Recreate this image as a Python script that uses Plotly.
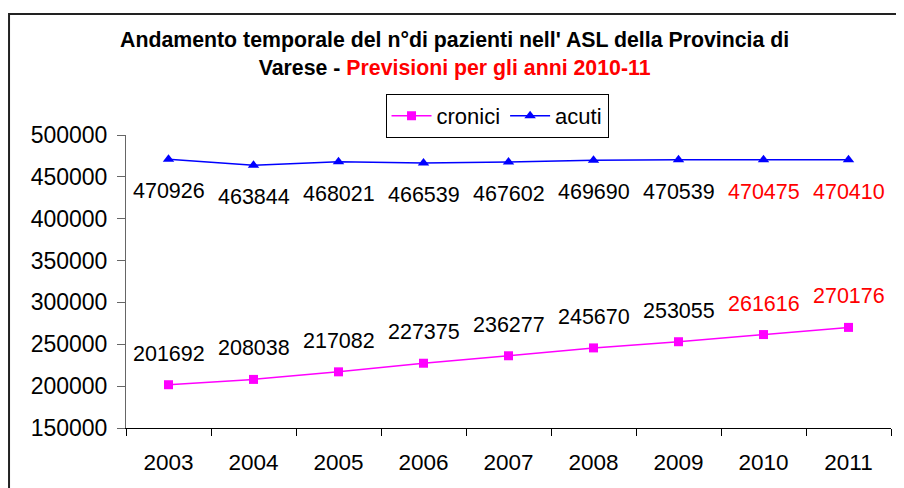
import plotly.graph_objects as go

years = ["2003", "2004", "2005", "2006", "2007", "2008", "2009", "2010", "2011"]
cronici = [201692, 208038, 217082, 227375, 236277, 245670, 253055, 261616, 270176]
acuti = [470926, 463844, 468021, 466539, 467602, 469690, 470539, 470475, 470410]
label_colors = ["black"] * 7 + ["red"] * 2

FONT = "Liberation Sans, Arial, sans-serif"

fig = go.Figure()
fig.add_trace(go.Scatter(x=years, y=cronici, name="cronici", mode="lines+markers",
                         line=dict(color="#FF00FF", width=1.5),
                         marker=dict(symbol="square", size=9, color="#FF00FF")))
fig.add_trace(go.Scatter(x=years, y=acuti, name="acuti", mode="lines+markers",
                         line=dict(color="#0000FF", width=1.5),
                         marker=dict(symbol="triangle-up", size=10, color="#0000FF")))

annotations = []
for i, (v, c) in enumerate(zip(cronici, label_colors)):
    annotations.append(dict(x=i, y=v, xref="x", yref="y", text=str(v), showarrow=False,
                            yshift=31, font=dict(family=FONT, size=21.5, color=c)))
for i, (v, c) in enumerate(zip(acuti, label_colors)):
    annotations.append(dict(x=i, y=v, xref="x", yref="y", text=str(v), showarrow=False,
                            yshift=-32, font=dict(family=FONT, size=21.5, color=c)))

annotations.append(dict(
    xref="paper", yref="paper", x=0.43, y=1.276, yanchor="middle", showarrow=False,
    text="<b>Andamento temporale del n°di pazienti nell' ASL della Provincia di<br>"
         "Varese - <span style='color:red'>Previsioni per gli anni 2010-11</span></b>",
    font=dict(family=FONT, size=21.3, color="black"), align="center"))

fig.update_layout(
    width=896, height=480,
    margin=dict(l=118, r=13, t=127, b=60),
    paper_bgcolor="white", plot_bgcolor="white",
    font=dict(family=FONT, size=22, color="black"),
    showlegend=True,
    legend=dict(orientation="h", xref="paper", yref="paper", x=0.485, y=1.065,
                xanchor="center", yanchor="middle",
                bordercolor="black", borderwidth=1, bgcolor="white",
                font=dict(family=FONT, size=22), itemwidth=40, tracegroupgap=0),
    annotations=annotations,
    shapes=[dict(type="rect", xref="paper", yref="paper",
                 x0=-0.1529, x1=1.06, y0=-0.3, y1=1.413,
                 line=dict(color="#222222", width=2), fillcolor="rgba(0,0,0,0)")],
)
fig.update_xaxes(type="category", showline=True, linecolor="black", linewidth=1,
                 ticks="outside", tickson="boundaries", ticklen=7, tickcolor="black",
                 showgrid=False, tickfont=dict(family=FONT, size=22.5), range=[-0.5, 8.5],
                 ticklabelstandoff=14)
fig.update_yaxes(range=[150000, 500000], dtick=50000, showline=True, linecolor="#666666",
                 linewidth=1, ticks="outside", ticklen=8, tickcolor="#666666",
                 showgrid=False, zeroline=False, tickformat="d",
                 tickfont=dict(family=FONT, size=23), ticklabelstandoff=5)

fig.write_html("out.html")
